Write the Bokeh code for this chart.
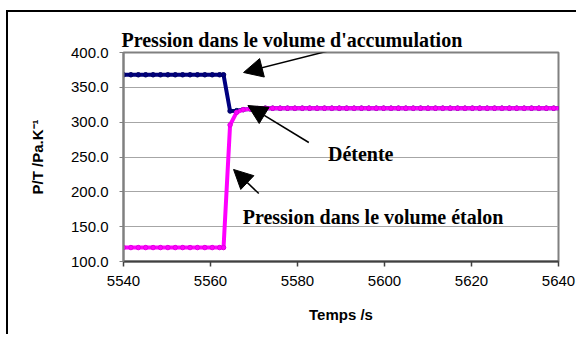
from bokeh.plotting import figure
from bokeh.models import (Range1d, FixedTicker, PrintfTickFormatter, Label, Arrow,
                          NormalHead)
from bokeh.embed import file_html
from bokeh.resources import INLINE

# ---- data ----
temps = [5540.0, 5541.7, 5543.4, 5545.1, 5546.8, 5548.5, 5550.2, 5551.9, 5553.6,
         5555.3, 5557.0, 5558.7, 5560.4, 5562.1, 5563.0,
         5564.5, 5566.0, 5567.5,
         5569.2, 5570.9, 5572.6, 5574.3, 5576.0, 5577.7, 5579.4, 5581.1, 5582.8,
         5584.5, 5586.2, 5587.9, 5589.6, 5591.3, 5593.0, 5594.7, 5596.4, 5598.1,
         5599.8, 5601.5, 5603.2, 5604.9, 5606.6, 5608.3, 5610.0, 5611.7, 5613.4,
         5615.1, 5616.8, 5618.5, 5620.2, 5621.9, 5623.6, 5625.3, 5627.0, 5628.7,
         5630.4, 5632.1, 5633.8, 5635.5, 5637.2, 5638.9, 5640.6]

p_accumulation = [368.0] * 15 + [316.0, 316.5, 318.0] + [319.0, 319.5] + [320.0] * 41
p_etalon = [120.0] * 15 + [296.0, 314.0, 318.0] + [319.0, 319.5] + [320.0] * 41

y_ticks = [100, 150, 200, 250, 300, 350, 400]
x_ticks = [5540, 5560, 5580, 5600, 5620, 5640]

TICK_FONT = "Liberation Sans"
ANNOT_FONT = "Liberation Serif"

p = figure(width=570, height=324, output_backend="svg", toolbar_location=None,
           x_range=Range1d(5540, 5640), y_range=Range1d(100, 400),
           min_border_left=115, min_border_right=20, min_border_top=40,
           min_border_bottom=75,
           title="Pression dans le volume d'accumulation")

p.margin = (10, 0, 0, 6)
p.styles = {"border-left": "2px solid black", "border-top": "2px solid black"}

p.title.text_font = ANNOT_FONT
p.title.text_font_style = "bold"
p.title.text_font_size = "20px"
p.title.text_color = "black"
p.title.align = "left"
p.title.offset = -2
p.title.standoff = 4

p.background_fill_color = "white"
p.border_fill_color = "white"
p.outline_line_color = "#808080"
p.outline_line_width = 2

p.xgrid.grid_line_color = None
p.ygrid.grid_line_color = "#a6a6a6"
p.ygrid.grid_line_width = 1

p.xaxis.ticker = FixedTicker(ticks=x_ticks)
p.yaxis.ticker = FixedTicker(ticks=y_ticks)
p.yaxis.formatter = PrintfTickFormatter(format="%.1f")
p.xaxis.minor_tick_line_color = None
p.yaxis.minor_tick_line_color = None

for ax in (p.xaxis, p.yaxis):
    ax.major_label_text_font = TICK_FONT
    ax.major_label_text_font_size = "15px"
    ax.major_label_text_color = "black"
    ax.axis_label_text_font = TICK_FONT
    ax.axis_label_text_font_size = "15px"
    ax.axis_label_text_font_style = "bold"
    ax.axis_label_text_color = "black"
    ax.major_tick_in = 0

p.xaxis.axis_line_color = "#404040"
p.xaxis.axis_line_width = 2
p.xaxis.major_tick_line_color = "#404040"
p.xaxis.major_tick_line_width = 1.5
p.xaxis.major_tick_out = 5
p.xaxis.major_label_standoff = 9
p.xaxis.axis_label = "Temps /s"
p.xaxis.axis_label_standoff = 17

p.yaxis.axis_line_color = "#808080"
p.yaxis.axis_line_width = 2
p.yaxis.major_tick_line_color = "#808080"
p.yaxis.major_tick_out = 4
p.yaxis.major_label_standoff = 11
p.yaxis.axis_label = "P/T /Pa.K\u207b\u00b9"
p.yaxis.axis_label_standoff = 22

# series
p.line(temps, p_accumulation, line_color="#000080", line_width=4)
p.scatter(temps, p_accumulation, size=4.5, marker="circle",
          fill_color="#000080", line_color="#000060", line_width=1)
p.line(temps, p_etalon, line_color="#ff00ff", line_width=4)
p.scatter(temps, p_etalon, size=4.5, marker="circle",
          fill_color="#ff00ff", line_color="#e000e0", line_width=1)

# annotations
def annot(x, y, txt):
    p.add_layout(Label(x=x, y=y, text=txt, text_font=ANNOT_FONT,
                       text_font_style="bold", text_font_size="20px",
                       text_color="black", text_baseline="alphabetic",
                       text_align="left"))

annot(5587.0, 255.0, "Détente")
annot(5567.4, 163.2, "Pression dans le volume étalon")

def arrow(x0, y0, x1, y1):
    p.add_layout(Arrow(x_start=x0, y_start=y0, x_end=x1, y_end=y1,
                       line_color="black", line_width=1.5,
                       end=NormalHead(size=19, fill_color="black",
                                      line_color="black")))

arrow(5588.4, 404.3, 5567.6, 371.3)
arrow(5582.6, 270.8, 5568.6, 323.9)
arrow(5571.1, 197.6, 5565.3, 232.1)

open("out.html", "w").write(file_html(p, INLINE))
